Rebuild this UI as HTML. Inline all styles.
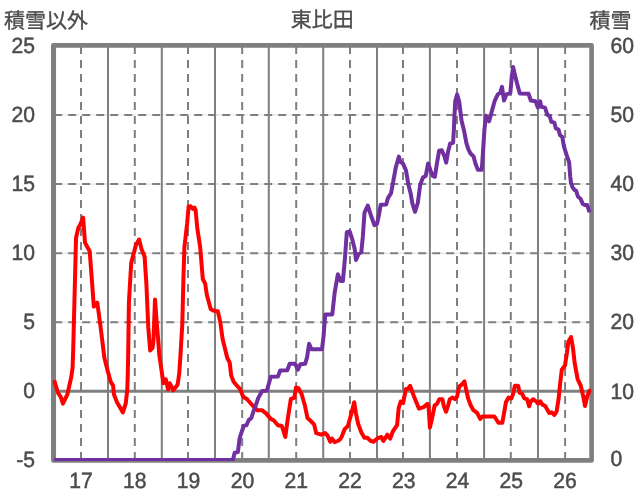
<!DOCTYPE html>
<html lang="ja"><head><meta charset="utf-8"><title>東比田</title>
<style>html,body{margin:0;padding:0;background:#fff}svg{display:block}</style></head>
<body>
<svg width="636" height="501" viewBox="0 0 636 501">
<rect width="636" height="501" fill="#fff"/>
<defs><clipPath id="pc"><rect x="0" y="0" width="636" height="461"/></clipPath></defs>
<line x1="53.3" y1="114.9" x2="591.6" y2="114.9" stroke="#dcdcdc" stroke-width="0.9"/>
<line x1="54.2" y1="114.9" x2="591.6" y2="114.9" stroke="#7f7f7f" stroke-width="2" stroke-dasharray="8 6"/>
<line x1="53.3" y1="184.1" x2="591.6" y2="184.1" stroke="#dcdcdc" stroke-width="0.9"/>
<line x1="54.2" y1="184.1" x2="591.6" y2="184.1" stroke="#7f7f7f" stroke-width="2" stroke-dasharray="8 6"/>
<line x1="53.3" y1="253.2" x2="591.6" y2="253.2" stroke="#dcdcdc" stroke-width="0.9"/>
<line x1="54.2" y1="253.2" x2="591.6" y2="253.2" stroke="#7f7f7f" stroke-width="2" stroke-dasharray="8 6"/>
<line x1="53.3" y1="322.2" x2="591.6" y2="322.2" stroke="#dcdcdc" stroke-width="0.9"/>
<line x1="54.2" y1="322.2" x2="591.6" y2="322.2" stroke="#7f7f7f" stroke-width="2" stroke-dasharray="8 6"/>
<line x1="81.00" y1="46" x2="81.00" y2="460.4" stroke="#7f7f7f" stroke-width="2" stroke-dasharray="8 6"/>
<line x1="134.80" y1="46" x2="134.80" y2="460.4" stroke="#7f7f7f" stroke-width="2" stroke-dasharray="8 6"/>
<line x1="188.00" y1="46" x2="188.00" y2="460.4" stroke="#7f7f7f" stroke-width="2" stroke-dasharray="8 6"/>
<line x1="242.20" y1="46" x2="242.20" y2="460.4" stroke="#7f7f7f" stroke-width="2" stroke-dasharray="8 6"/>
<line x1="296.20" y1="46" x2="296.20" y2="460.4" stroke="#7f7f7f" stroke-width="2" stroke-dasharray="8 6"/>
<line x1="350.00" y1="46" x2="350.00" y2="460.4" stroke="#7f7f7f" stroke-width="2" stroke-dasharray="8 6"/>
<line x1="403.00" y1="46" x2="403.00" y2="460.4" stroke="#7f7f7f" stroke-width="2" stroke-dasharray="8 6"/>
<line x1="457.00" y1="46" x2="457.00" y2="460.4" stroke="#7f7f7f" stroke-width="2" stroke-dasharray="8 6"/>
<line x1="510.80" y1="46" x2="510.80" y2="460.4" stroke="#7f7f7f" stroke-width="2" stroke-dasharray="8 6"/>
<line x1="565.10" y1="46" x2="565.10" y2="460.4" stroke="#7f7f7f" stroke-width="2" stroke-dasharray="8 6"/>
<line x1="108.00" y1="45.4" x2="108.00" y2="460.4" stroke="#7f7f7f" stroke-width="2"/>
<line x1="161.80" y1="45.4" x2="161.80" y2="460.4" stroke="#7f7f7f" stroke-width="2"/>
<line x1="215.00" y1="45.4" x2="215.00" y2="460.4" stroke="#7f7f7f" stroke-width="2"/>
<line x1="268.80" y1="45.4" x2="268.80" y2="460.4" stroke="#7f7f7f" stroke-width="2"/>
<line x1="323.20" y1="45.4" x2="323.20" y2="460.4" stroke="#7f7f7f" stroke-width="2"/>
<line x1="377.00" y1="45.4" x2="377.00" y2="460.4" stroke="#7f7f7f" stroke-width="2"/>
<line x1="429.90" y1="45.4" x2="429.90" y2="460.4" stroke="#7f7f7f" stroke-width="2"/>
<line x1="484.10" y1="45.4" x2="484.10" y2="460.4" stroke="#7f7f7f" stroke-width="2"/>
<line x1="538.00" y1="45.4" x2="538.00" y2="460.4" stroke="#7f7f7f" stroke-width="2"/>
<line x1="53.3" y1="391.3" x2="591.6" y2="391.3" stroke="#7f7f7f" stroke-width="3"/>
<rect x="53.3" y="45.4" width="538.3" height="415.0" fill="none" stroke="#7f7f7f" stroke-width="4.6" stroke-linejoin="round"/>
<line x1="55.5" y1="45.4" x2="55.5" y2="460.4" stroke="#7f7f7f" stroke-width="1.1"/>
<path d="M54.7,381.7 L57.9,392.7 L61.0,397.4 L62.9,403.7 L67.4,394.3 L71.3,376.9 L72.6,367.5 L73.2,350.0 L75.0,279.0 L76.0,238.0 L78.4,227.6 L80.0,225.2 L83.1,217.5 L85.0,242.6 L89.7,251.3 L91.8,279.0 L93.8,306.6 L97.3,302.7 L100.5,326.3 L104.4,358.0 L107.6,370.6 L110.7,381.7 L113.1,385.6 L113.9,394.3 L117.0,402.2 L122.9,412.4 L125.7,403.7 L127.3,389.5 L127.8,373.8 L128.2,353.0 L128.9,302.7 L131.2,263.1 L136.0,244.7 L139.1,239.5 L141.5,248.9 L144.6,256.8 L146.4,284.0 L148.3,327.7 L150.2,350.5 L152.5,348.0 L153.5,340.0 L155.0,299.4 L156.6,321.4 L158.2,340.0 L159.3,355.0 L163.4,383.2 L165.8,379.3 L168.1,389.5 L169.7,383.2 L173.3,390.3 L177.6,384.8 L179.2,373.8 L180.3,358.0 L182.3,324.0 L183.4,279.0 L184.4,247.3 L187.1,223.7 L188.6,206.6 L190.6,206.3 L192.6,208.8 L194.5,207.6 L195.6,210.0 L197.3,228.4 L200.2,247.3 L202.8,279.0 L205.2,283.7 L206.8,294.8 L210.7,309.0 L213.1,310.5 L217.8,311.3 L220.2,321.6 L222.6,338.9 L227.3,358.0 L229.7,362.7 L231.2,375.4 L233.6,381.7 L238.3,387.2 L240.0,388.9 L243.2,396.8 L247.1,399.2 L252.6,405.5 L257.4,410.2 L262.1,410.2 L266.0,413.4 L270.8,418.9 L273.9,420.5 L277.9,425.2 L281.8,426.0 L285.3,437.0 L287.3,422.1 L290.8,399.2 L294.4,397.6 L296.0,387.4 L298.4,388.1 L301.5,393.7 L304.7,404.7 L307.5,418.1 L310.2,420.5 L314.1,424.4 L316.2,433.1 L321.2,434.7 L325.2,433.1 L327.5,435.5 L330.2,441.8 L332.0,438.6 L334.6,442.2 L337.8,441.0 L340.0,439.4 L341.6,437.0 L344.7,429.1 L347.9,426.0 L351.0,415.0 L354.2,402.3 L355.8,412.6 L358.1,423.6 L361.3,432.3 L364.4,437.8 L367.6,437.8 L370.0,440.5 L373.6,441.8 L377.9,438.1 L381.3,437.0 L383.4,441.0 L387.3,434.7 L390.2,438.6 L392.8,431.5 L397.1,425.2 L398.7,407.9 L400.7,401.5 L403.1,403.1 L405.9,388.9 L407.8,388.9 L410.2,385.8 L414.1,396.8 L418.9,408.6 L423.6,407.1 L427.5,403.9 L428.5,405.5 L429.9,427.6 L432.3,417.3 L434.6,405.5 L437.0,403.9 L439.4,399.2 L442.4,399.2 L443.9,406.3 L446.0,411.8 L447.9,406.3 L449.8,399.2 L452.6,397.6 L455.0,399.2 L457.0,396.8 L459.2,386.6 L462.1,384.2 L464.4,381.4 L466.0,388.9 L468.1,398.4 L470.8,405.5 L473.4,410.2 L477.1,412.9 L480.2,418.9 L482.3,416.5 L494.4,416.5 L498.4,422.8 L502.3,422.8 L503.9,414.2 L505.9,402.3 L508.6,397.6 L511.3,398.4 L512.9,394.4 L514.9,385.8 L518.1,385.8 L519.7,392.9 L522.0,393.7 L524.4,398.4 L527.1,399.2 L529.1,406.3 L530.7,401.5 L533.1,399.2 L536.2,401.5 L538.1,403.6 L540.5,401.3 L542.1,404.4 L545.2,406.0 L549.2,413.1 L551.5,412.3 L554.4,415.0 L556.6,411.5 L558.6,398.9 L560.2,383.1 L561.8,369.7 L565.0,365.5 L566.9,353.0 L568.3,341.7 L571.1,337.0 L573.0,348.3 L574.6,362.6 L577.6,379.2 L580.7,385.5 L583.1,395.7 L585.0,406.0 L587.0,397.3 L589.4,390.7" fill="none" stroke="#ff0000" stroke-width="4" stroke-linejoin="round" stroke-linecap="round"/>
<path d="M54.0,460.1 L232.9,460.1 L234.7,452.8 L237.9,452.1 L239.7,437.9 L241.8,431.5 L243.8,426.0 L246.5,425.2 L248.9,419.7 L251.3,418.2 L253.6,411.0 L256.8,402.4 L258.2,398.1 L262.1,391.0 L266.8,390.7 L270.8,376.8 L277.9,376.5 L280.2,370.5 L287.3,370.2 L289.7,363.8 L295.2,363.8 L297.9,369.7 L300.4,364.2 L305.2,363.8 L307.1,357.1 L309.1,343.7 L311.5,349.2 L322.0,349.2 L323.6,335.8 L325.2,314.4 L332.3,314.4 L334.7,292.3 L337.9,274.2 L340.7,281.0 L342.9,281.0 L345.0,257.6 L346.8,232.3 L349.7,231.5 L352.3,239.4 L354.7,248.9 L356.0,260.0 L358.7,253.7 L361.3,252.3 L362.8,237.0 L364.5,212.6 L367.8,205.5 L370.5,214.2 L374.4,225.2 L377.1,223.6 L379.1,214.2 L380.7,204.7 L386.2,204.4 L387.8,198.4 L391.0,193.3 L393.4,180.7 L395.8,167.3 L398.9,156.6 L400.2,161.8 L402.9,163.4 L406.0,170.5 L408.4,184.7 L410.8,194.1 L412.3,203.1 L415.0,211.8 L417.8,203.0 L420.2,184.7 L422.9,177.6 L425.7,176.0 L428.1,163.4 L430.5,170.5 L432.8,176.0 L434.9,176.8 L436.8,164.2 L439.1,150.8 L441.8,150.3 L444.4,156.3 L446.2,162.6 L448.1,151.5 L450.2,143.5 L453.1,142.7 L453.9,129.5 L454.4,117.3 L455.2,101.5 L457.1,94.4 L459.2,101.5 L461.5,120.5 L463.9,129.9 L466.3,142.6 L468.3,149.2 L470.5,153.5 L473.6,156.5 L475.5,163.7 L477.9,169.8 L481.8,169.8 L483.1,150.5 L484.4,129.9 L486.0,115.7 L489.1,121.3 L491.5,112.6 L494.7,100.8 L497.8,94.4 L500.2,92.9 L502.0,86.8 L504.0,100.6 L506.4,94.3 L510.3,93.1 L511.8,77.0 L513.1,67.0 L515.0,75.2 L517.4,84.7 L519.8,93.5 L528.5,93.7 L530.8,100.5 L535.5,101.3 L537.9,107.6 L540.2,101.3 L541.3,106.8 L545.0,107.6 L547.3,114.7 L549.7,116.2 L551.3,121.8 L554.4,122.6 L555.8,128.4 L558.5,129.5 L560.0,135.2 L562.3,136.8 L563.9,146.3 L566.3,154.2 L569.1,162.1 L570.2,176.2 L571.0,183.0 L572.6,187.4 L574.2,189.7 L576.1,190.8 L578.1,196.8 L580.5,198.7 L582.8,203.9 L584.9,205.0 L587.1,205.0 L589.6,212.3" fill="none" stroke="#7030a0" stroke-width="4" stroke-linejoin="round" stroke-linecap="butt" clip-path="url(#pc)"/>
<g font-family='"Liberation Sans","Noto Sans CJK JP",sans-serif' fill="#4c4c4c" stroke="#4c4c4c" font-size="22" stroke-width="0.5" text-rendering="geometricPrecision">
<text transform="translate(35.0,52.9) scale(0.960,1)" text-anchor="end">25</text>
<text transform="translate(35.0,121.6) scale(0.960,1)" text-anchor="end">20</text>
<text transform="translate(35.0,190.8) scale(0.960,1)" text-anchor="end">15</text>
<text transform="translate(35.0,259.8) scale(0.960,1)" text-anchor="end">10</text>
<text transform="translate(35.0,328.9) scale(0.960,1)" text-anchor="end">5</text>
<text transform="translate(35.0,398.3) scale(0.960,1)" text-anchor="end">0</text>
<text transform="translate(35.0,466.7) scale(0.960,1)" text-anchor="end">-5</text>
<text transform="translate(610.4,52.8) scale(0.960,1)" text-anchor="start">60</text>
<text transform="translate(610.4,122.0) scale(0.960,1)" text-anchor="start">50</text>
<text transform="translate(610.4,191.2) scale(0.960,1)" text-anchor="start">40</text>
<text transform="translate(610.4,260.2) scale(0.960,1)" text-anchor="start">30</text>
<text transform="translate(610.4,329.3) scale(0.960,1)" text-anchor="start">20</text>
<text transform="translate(610.4,398.7) scale(0.960,1)" text-anchor="start">10</text>
<text transform="translate(610.4,466.2) scale(0.960,1)" text-anchor="start">0</text>
<text transform="translate(81.0,488.0) scale(0.960,1)" text-anchor="middle">17</text>
<text transform="translate(134.8,488.0) scale(0.960,1)" text-anchor="middle">18</text>
<text transform="translate(188.6,488.0) scale(0.960,1)" text-anchor="middle">19</text>
<text transform="translate(242.4,488.0) scale(0.960,1)" text-anchor="middle">20</text>
<text transform="translate(296.2,488.0) scale(0.960,1)" text-anchor="middle">21</text>
<text transform="translate(349.9,488.0) scale(0.960,1)" text-anchor="middle">22</text>
<text transform="translate(403.7,488.0) scale(0.960,1)" text-anchor="middle">23</text>
<text transform="translate(457.5,488.0) scale(0.960,1)" text-anchor="middle">24</text>
<text transform="translate(511.3,488.0) scale(0.960,1)" text-anchor="middle">25</text>
<text transform="translate(565.1,488.0) scale(0.960,1)" text-anchor="middle">26</text>
</g>
<g font-family='"Liberation Sans","Noto Sans CJK JP",sans-serif' fill="#4c4c4c" stroke="#4c4c4c" font-size="21" stroke-width="0.35" text-rendering="geometricPrecision">
<text x="4" y="27.7">積雪以外</text>
<text x="322.3" y="26.6" text-anchor="middle">東比田</text>
<text x="631.5" y="27.7" text-anchor="end">積雪</text>
</g>
</svg>
</body></html>
